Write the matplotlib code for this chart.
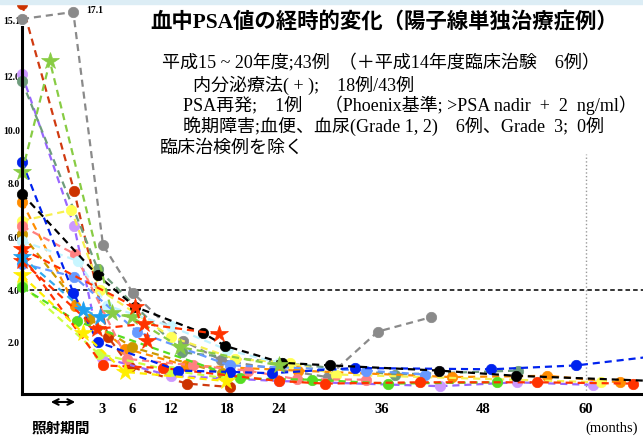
import numpy as np
import matplotlib.pyplot as plt
from matplotlib.patches import Rectangle

plt.rcParams['font.family'] = ['Liberation Serif', 'Noto Sans CJK JP']

# PSA (ng/ml) per patient, months after end of irradiation (-6 = pre-treatment)
dkred_m = [-6, -0.2, 3.6, 5.8, 13.7, 18.3]
dkred_v = [19.5, 7.7, 2.2, 1.05, 0.4, 0.27]
gray_m = [-6, -0.3, 3.1, 6.1, 13.3, 17.4, 29.7, 35.6, 41.8]
gray_v = [15.1, 17.1, 5.7, 3.9, 2.05, 1.3, 0.65, 2.4, 2.95]
lav_m = [-6, -0.2, 3.0, 12, 24, 42.9, 51.9, 60.8]
lav_v = [12.1, 6.4, 1.4, 0.7, 0.5, 0.3, 0.45, 0.35]
sage_m = [-6, 2.5, 13.2, 24.4, 37.6, 52.1]
sage_v = [11.8, 4.8, 1.6, 1.2, 0.75, 0.9]
blue_m = [-6, -0.3, 2.5, 12.8, 18.3, 23.2, 32.9, 48.9, 58.9, 68]
blue_v = [8.8, 3.9, 2.0, 0.9, 0.85, 0.8, 1.0, 0.95, 1.1, 1.45]
black_m = [-6, 2.5, 6.5, 15.4, 17.8, 24.4, 30, 42.8, 51.8, 68]
black_v = [7.6, 4.55, 3.35, 2.35, 1.85, 1.2, 1.1, 0.9, 0.7, 0.5]
orange_m = [-6, -0.1, 5.3, 13.6, 26.2, 44.3, 55.5, 64]
orange_v = [7.3, 3.4, 1.75, 1.1, 0.9, 0.65, 0.7, 0.45]
gold_m = [-6, 1.5, 6, 17.5]
gold_v = [6.1, 2.9, 1.8, 0.8]
yellow_m = [-6, -0.5, 2.8, 12.0, 18.9, 25.3, 30.7, 61.8]
yellow_v = [6.6, 7.0, 4.0, 2.2, 1.35, 1.2, 0.75, 0.45]
salmon_m = [-6, -0.1, 5.5, 14.4, 20.4, 26.1, 34.2]
salmon_v = [6.4, 5.35, 1.35, 1.1, 0.9, 0.57, 0.55]
cyan_m = [-6, 0.2, 3.5, 12, 18, 24]
cyan_v = [5.85, 5.1, 3.4, 2.6, 1.7, 1.2]
corn_m = [-6, -0.2, 6.8, 18.3, 34.2, 41.1]
corn_v = [5.0, 4.5, 2.4, 1.1, 0.9, 0.75]
red_m = [-6, 3.1, 10.7, 24, 29.4, 40.5, 54.3, 65.5]
red_v = [5.3, 1.1, 1.0, 0.5, 0.4, 0.45, 0.45, 0.4]
lime_m = [-6, 2.6, 12, 18]
lime_v = [4.2, 1.55, 0.9, 0.6]
green_m = [-6, 0.1, 19.5, 27.9, 36.8, 49.6]
green_v = [4.1, 2.8, 0.6, 0.55, 0.4, 0.45]
gstar_m = [-6, -2.9, 4.0, 6.0, 13, 24]
gstar_v = [8.4, 12.8, 3.1, 2.95, 1.8, 1.1]
rstar_m = [-6, 2.4, 7.8, 17.2]
rstar_v = [5.1, 2.5, 2.7, 2.3]
rstar2_m = [-6, 6.5, 8.3]
rstar2_v = [5.55, 3.35, 2.05]
bstar_m = [-6, 0.8, 2.8]
bstar_v = [5.25, 3.25, 2.95]
ystar_m = [-6, 0.8, 5.3, 17.9]
ystar_v = [4.55, 2.35, 0.85, 0.5]

# (months, psa, line colour, marker colour, marker)
series = [
    (dkred_m, dkred_v, '#d03a10', '#cc3300', 'o'),
    (gray_m, gray_v, '#8a8a8a', '#8a8a8a', 'o'),
    (lav_m, lav_v, '#9966ff', '#cc99ff', 'o'),
    (sage_m, sage_v, '#6e9c7c', '#6e9c7c', 'o'),
    (orange_m, orange_v, '#ff8c00', '#ff8c00', 'o'),
    (gold_m, gold_v, '#cc9900', '#cc9900', 'o'),
    (yellow_m, yellow_v, '#f6f050', '#ffff55', 'o'),
    (salmon_m, salmon_v, '#ff8080', '#ff8080', 'o'),
    (cyan_m, cyan_v, '#bff2ff', '#c8f6ff', 'o'),
    (corn_m, corn_v, '#6699ff', '#6699ff', 'o'),
    (lime_m, lime_v, '#ccff44', '#ccff44', 'o'),
    (green_m, green_v, '#55dd22', '#55dd22', 'o'),
    (red_m, red_v, '#ff3300', '#ff3300', 'o'),
    (blue_m, blue_v, '#0022ee', '#0022ee', 'o'),
    (black_m, black_v, '#000000', '#000000', 'o'),
    (gstar_m, gstar_v, '#88cc44', '#88cc44', '*'),
    (rstar_m, rstar_v, '#ff3300', '#ff3300', '*'),
    (rstar2_m, rstar2_v, '#ff3300', '#ff3300', '*'),
    (bstar_m, bstar_v, '#33aaee', '#1ea0f0', '*'),
    (ystar_m, ystar_v, '#ffee00', '#ffee00', '*'),
]

# the slide's axes are stretched unevenly; map values to slide pixels
x_knots = [-20, -6, 0, 3, 6, 12, 18, 24, 60, 120]
x_px = [-104, 22, 76, 102, 132, 171, 227, 279, 586, 1098]
y_knots = [-10, 0, 2, 4, 6, 8, 10, 12, 15.1, 17.1, 21, 60]
y_px = [-260, 0, 52, 104, 157, 211, 264, 318, 375, 382, 395, 528]

fig = plt.figure(figsize=(6.43, 4.39), dpi=100)
fig.patches.append(Rectangle((0, 1 - 5 / 439), 1, 5 / 439, transform=fig.transFigure,
                             color='#dcedf5', zorder=0))
ax = fig.add_axes([22 / 643, 44 / 439, 621 / 643, 395 / 439])
ax.set_xscale('function', functions=(lambda v: np.interp(v, x_knots, x_px),
                                     lambda p: np.interp(p, x_px, x_knots)))
ax.set_yscale('function', functions=(lambda v: np.interp(v, y_knots, y_px),
                                     lambda p: np.interp(p, y_px, y_knots)))
ax.set_xlim(-6, 66.7)
ax.set_ylim(0, 21)

ax.axhline(4, color='black', lw=1.1, ls=(0, (3, 2)), zorder=1)
ax.vlines(60, 0, 9.1, color='#999999', lw=1, ls=':', zorder=1)

for m, v, lc, mc, mk in series:
    ms = 13 if mk == '*' else 7.5
    ax.plot(m, v, ls=(0, (3.2, 2.2)), lw=1.6, color=lc, marker=mk, ms=ms,
            mfc=mc, mec=mc, mew=0.5, clip_on=False)

ax.annotate('17.1', (gray_m[1], gray_v[1]), xytext=(9, 2), textcoords='offset points',
            fontsize=7, fontweight='bold', va='center')

for s in ['top', 'right']:
    ax.spines[s].set_visible(False)
ax.spines['left'].set_linewidth(2.2)
ax.spines['left'].set_bounds(0, 14.66)
ax.spines['bottom'].set_linewidth(2.2)

ax.set_xticks([3, 6, 12, 18, 24, 36, 48, 60])
ax.set_xticklabels(['3', '6', '12', '18', '24', '36', '48', '60'],
                   fontsize=10.5, fontweight='bold')
ax.set_yticks([2, 4, 6, 8, 10, 12, 15.1])
ax.set_yticklabels(['2.0', '4.0', '6.0', '8.0', '10.0', '12.0', '15.1'],
                   fontsize=7, fontweight='bold')
ax.tick_params(axis='x', length=0, pad=6)
ax.tick_params(axis='y', length=0, pad=1.5)
ax.set_facecolor('none')

ax.annotate('', xy=(48, 36), xytext=(78, 36), xycoords='figure pixels',
            arrowprops=dict(arrowstyle='<->', lw=1.5, color='black'), annotation_clip=False)
fig.text(61 / 643, 1 - 428 / 439, '照射期間', fontsize=10.5, fontweight='bold',
         family='Noto Sans CJK JP', ha='center', va='center')
fig.text(585 / 643, 1 - 428 / 439, '(months)', fontsize=10.5, va='center')

fig.text(150 / 643, 1 - 22 / 439, '血中PSA値の経時的変化（陽子線単独治療症例）',
         fontsize=15.4, fontweight='bold', va='center')
notes = [
    (162, 63, '平成15 ~ 20年度;43例  （＋平成14年度臨床治験    6例）'),
    (193, 85, '内分泌療法( + );    18例/43例'),
    (183, 105, 'PSA再発;    1例     （Phoenix基準; >PSA nadir  +  2  ng/ml）'),
    (183, 126, '晩期障害;血便、血尿(Grade 1, 2)    6例、Grade  3;  0例'),
    (160, 148, '臨床治検例を除く'),
]
for x, y, t in notes:
    fig.text(x / 643, 1 - y / 439, t, fontsize=13, va='center')

fig.savefig('out.png', dpi=100)
